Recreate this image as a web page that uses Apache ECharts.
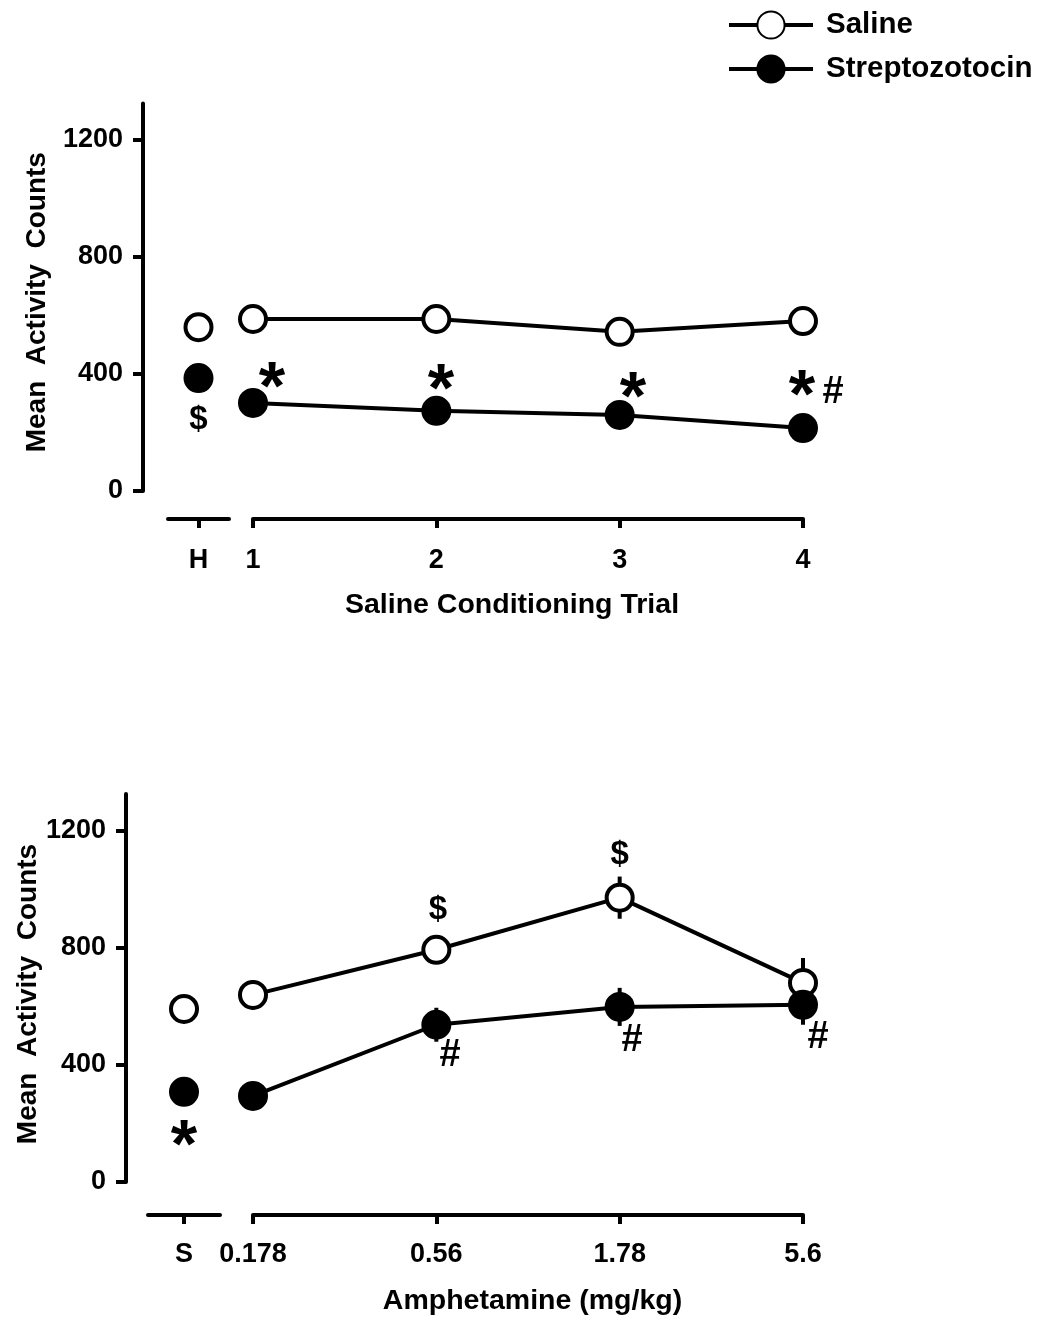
<!DOCTYPE html>
<html>
<head>
<meta charset="utf-8">
<script src="https://cdn.jsdelivr.net/npm/echarts@6/dist/echarts.min.js"></script>
<style>
  html, body { margin: 0; background: #fff; }
  #chart { width: 1062px; height: 1317px; }
</style>
</head>
<body>
<div id="chart"></div>
<script>
// top panel: habituation (H) + saline conditioning trials
var trialLabels = ['1', '2', '3', '4'];
var habSaline = 560, habStz = 386;
var trialSaline = [588, 588, 544, 581];
var trialStz = [301, 274, 260, 215];
var trialSalineErr = [25, 25, 25, 25];
var trialStzErr = [25, 25, 25, 25];

// bottom panel: saline baseline (S) + amphetamine doses
var doseLabels = ['0.178', '0.56', '1.78', '5.6'];
var baseSaline = 591, baseStz = 308;
var doseSaline = [639, 793, 971, 680];
var doseStz = [294, 537, 598, 605];
var doseSalineErr = [50, 40, 72, 85];
var doseStzErr = [30, 58, 65, 68];

var yTicks = [0, 400, 800, 1200];

// significance marks [x, y, text]
var habMarks = [[1, 243, '$']];
var trialMarks = [[1.104, 397, '*'], [2.025, 390, '*'], [3.073, 362, '*'], [3.995, 369, '*'], [4.164, 335, '#']];
var baseMarks = [[1, 168, '*']];
var doseMarks = [[1.009, 930, '$'], [2.0, 1118, '$'], [1.075, 431, '#'], [2.067, 482, '#'], [3.082, 493, '#']];

var FONT = 'Liberation Sans, Arial, sans-serif';
var chart = echarts.init(document.getElementById('chart'));

function yAxisMain(grid, offset, nameGap, namePad) {
  return {
    type: 'value', gridIndex: grid, min: 0, max: 1325, offset: offset,
    name: 'Mean  Activity  Counts', nameLocation: 'middle', nameGap: nameGap, nameRotate: 90,
    nameTextStyle: { color: '#000', fontFamily: FONT, fontWeight: 'bold', fontSize: 28, padding: namePad },
    axisLine: { show: true, onZero: false, lineStyle: { color: '#000', width: 4 } },
    axisTick: { show: true, length: 10, lineStyle: { color: '#000', width: 4 }, customValues: yTicks },
    axisLabel: { customValues: yTicks, margin: 20, formatter: function (v) { return String(v); },
      color: '#000', fontFamily: FONT, fontWeight: 'bold', fontSize: 27 },
    splitLine: { show: false }
  };
}
function yAxisHidden(grid) {
  return { type: 'value', gridIndex: grid, min: 0, max: 1325, show: false, splitLine: { show: false } };
}
function xAxisBase(grid, offset, label, margin) {
  return {
    type: 'value', gridIndex: grid, min: 0, max: 2, offset: offset,
    axisLine: { show: true, onZero: false, lineStyle: { color: '#000', width: 4 } },
    axisTick: { show: true, length: 9, lineStyle: { color: '#000', width: 4 }, customValues: [1] },
    axisLabel: { customValues: [1], formatter: function () { return label; }, margin: margin,
      color: '#000', fontFamily: FONT, fontWeight: 'bold', fontSize: 27 },
    splitLine: { show: false }
  };
}
function xAxisMain(grid, offset, min, labels, name, namePad, margin) {
  var vals = labels.map(function (l, i) { return min + i; });
  return {
    type: 'value', gridIndex: grid, min: min, max: min + labels.length - 1, offset: offset,
    name: name, nameLocation: 'middle', nameGap: 72,
    nameTextStyle: { color: '#000', fontFamily: FONT, fontWeight: 'bold', fontSize: 28.5, padding: namePad },
    axisLine: { show: true, onZero: false, lineStyle: { color: '#000', width: 4 } },
    axisTick: { show: true, length: 9, lineStyle: { color: '#000', width: 4 }, customValues: vals },
    axisLabel: { customValues: vals, margin: margin, formatter: function (v) { return labels[Math.round(v - min)]; },
      color: '#000', fontFamily: FONT, fontWeight: 'bold', fontSize: 27 },
    splitLine: { show: false }
  };
}

var openItem = { color: '#fff', borderColor: '#000', borderWidth: 4 };
var fillItem = { color: '#000', borderColor: '#000', borderWidth: 4 };

function lineSeries(name, x, y, data, item) {
  return {
    name: name, type: 'line', xAxisIndex: x, yAxisIndex: y, data: data, clip: false,
    symbol: 'circle', symbolSize: 26, showSymbol: true, z: 5,
    itemStyle: item, lineStyle: { color: '#000', width: 4 }
  };
}
function errSeries(x, y, data) {
  return {
    type: 'custom', xAxisIndex: x, yAxisIndex: y, data: data, z: 2, clip: false, silent: true,
    encode: { x: 0, y: 1 },
    renderItem: function (params, api) {
      var p0 = api.coord([api.value(0), api.value(1) - api.value(2)]);
      var p1 = api.coord([api.value(0), api.value(1) + api.value(2)]);
      return { type: 'line', shape: { x1: p0[0], y1: p0[1], x2: p1[0], y2: p1[1] },
        style: { stroke: '#000', lineWidth: 4 } };
    }
  };
}
function markSeries(x, y, marks) {
  var sizes = { '*': 68, '#': 38, '$': 33 };
  return {
    type: 'scatter', xAxisIndex: x, yAxisIndex: y, symbolSize: 0, silent: true, z: 10, clip: false,
    itemStyle: { opacity: 1 },
    data: marks.map(function (m) {
      return {
        value: m,
        label: {
          show: true, position: 'inside', formatter: m[2], color: '#000',
          fontFamily: FONT, fontWeight: 'bold', fontSize: sizes[m[2]],
          offset: m[2] === '*' ? [0, 15] : [0, 0]
        }
      };
    })
  };
}
function withX(start, arr) {
  return arr.map(function (v, i) { return [start + i, v]; });
}
function withErr(start, arr, err) {
  return arr.map(function (v, i) { return [start + i, v, err[i]]; });
}

var option = {
  backgroundColor: '#fff',
  animation: false,
  legend: {
    orient: 'vertical', left: 722, top: 5, itemWidth: 84, itemHeight: 34, itemGap: 14,
    data: ['Saline', 'Streptozotocin'],
    lineStyle: { width: 4, color: '#000' },
    textStyle: { color: '#000', fontFamily: FONT, fontWeight: 'bold', fontSize: 29.5, padding: [0, 0, 0, 8] }
  },
  grid: [
    { left: 168, top: 103.4, width: 61, height: 387.6 },
    { left: 253, top: 103.4, width: 550, height: 387.6 },
    { left: 148, top: 794, width: 72, height: 388 },
    { left: 253, top: 794, width: 550, height: 388 }
  ],
  xAxis: [
    xAxisBase(0, 28, 'H', 28),
    xAxisMain(1, 28, 1, trialLabels, 'Saline Conditioning Trial', [0, 32, 0, 0], 28),
    xAxisBase(2, 33, 'S', 26),
    xAxisMain(3, 33, 0, doseLabels, 'Amphetamine (mg/kg)', [0, 0, 0, 9], 26)
  ],
  yAxis: [
    yAxisMain(0, 25, 92, [0, 10, 0, 0]),
    yAxisHidden(1),
    yAxisMain(2, 22, 77, [0, 12, 0, 0]),
    yAxisHidden(3)
  ],
  series: [
    lineSeries('Saline', 1, 1, withX(1, trialSaline), openItem),
    lineSeries('Streptozotocin', 1, 1, withX(1, trialStz), fillItem),
    lineSeries('Saline', 0, 0, [[1, habSaline]], openItem),
    lineSeries('Streptozotocin', 0, 0, [[1, habStz]], fillItem),
    errSeries(1, 1, withErr(1, trialSaline, trialSalineErr)),
    errSeries(1, 1, withErr(1, trialStz, trialStzErr)),
    markSeries(0, 0, habMarks),
    markSeries(1, 1, trialMarks),

    lineSeries('Saline', 3, 3, withX(0, doseSaline), openItem),
    lineSeries('Streptozotocin', 3, 3, withX(0, doseStz), fillItem),
    lineSeries('Saline', 2, 2, [[1, baseSaline]], openItem),
    lineSeries('Streptozotocin', 2, 2, [[1, baseStz]], fillItem),
    errSeries(3, 3, withErr(0, doseSaline, doseSalineErr)),
    errSeries(3, 3, withErr(0, doseStz, doseStzErr)),
    markSeries(2, 2, baseMarks),
    markSeries(3, 3, doseMarks)
  ]
};
chart.setOption(option);
</script>
</body>
</html>
